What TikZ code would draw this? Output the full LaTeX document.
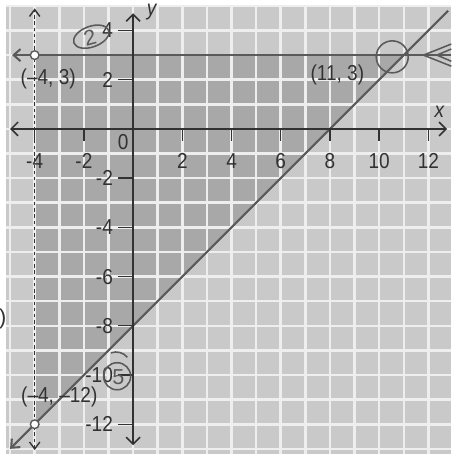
\documentclass[tikz,border=0pt]{standalone}
\usepackage{fontspec}
\setmainfont{Liberation Sans}
\usetikzlibrary{arrows.meta}
\definecolor{bglight}{RGB}{201,201,201}
\definecolor{shadec}{RGB}{168,168,168}
\definecolor{gridw}{RGB}{238,238,238}
\definecolor{ink}{RGB}{50,50,50}
\definecolor{pen}{RGB}{90,90,90}
\begin{document}
\begin{tikzpicture}[x=0.5cm,y=0.5cm,
  font=\fontsize{12.5}{14}\selectfont,
  axisline/.style={draw=ink, line width=0.9pt},
  bound/.style={draw=pen, line width=1.2pt},
  tick/.style={draw=ink, line width=0.8pt},
  lab/.style={text=ink, inner sep=1pt, xscale=0.88},
  dot/.style={circle, draw=pen, line width=0.8pt, fill=white, inner sep=0pt, minimum size=5pt},
  hand/.style={draw=pen, line width=0.9pt}
]
\useasboundingbox (-5.41,-13.21) rectangle (12.93,5.24);
\fill[white] (-5.41,-13.21) rectangle (12.93,5.24);
\fill[bglight] (-5.15,-13.21) rectangle (12.93,5.05);
\fill[shadec] (-4,3) -- (11,3) -- (-4,-12) -- cycle;
\draw[gridw, line width=1.5pt, step=0.5cm] (-5.15,-13.21) grid (12.93,5.05);

% graph lines
\coordinate (hl) at (-4.92,3);
\coordinate (hr) at (12.93,3);
\coordinate (dl) at (-5,-13);
\coordinate (dr) at (12.8,4.8);
\coordinate (vb) at (-4,-13.05);
\coordinate (vt) at (-4,4.9);
\draw[bound, {Straight Barb[length=4pt,width=7pt]}-] (hl) -- (hr);
\draw[bound, {Straight Barb[length=4pt,width=7pt]}-] (dl) -- (dr);
\draw[draw=ink, line width=0.8pt, dash pattern=on 2pt off 1.6pt,
  {Straight Barb[length=4pt,width=6pt]}-{Straight Barb[length=4pt,width=6pt]}] (vb) -- (vt);

% axes
\coordinate (xl) at (-5,0);
\coordinate (xr) at (12.76,0);
\coordinate (yb) at (0,-12.85);
\coordinate (yt) at (0,4.7);
\draw[axisline, {Straight Barb[length=4pt,width=8pt]}-{Straight Barb[length=4pt,width=8pt]}] (xl) -- (xr);
\draw[axisline, {Straight Barb[length=4pt,width=8pt]}-{Straight Barb[length=4pt,width=8pt]}] (yb) -- (yt);
\node[lab] (xlab) at (12.45,0.7) {\itshape x};
\node[lab] (ylab) at (0.75,4.75) {\itshape y};

% x ticks
\foreach \t in {-4,-2,2,4,6,8,10,12}{
  \draw[tick] (\t,0) -- (\t,-0.5);
  \node[lab] (xt\t) at (\t,-1.3) {\t};
}
\node[lab] (orig) at (-0.4,-0.55) {0};
% y ticks
\foreach \t in {4,2,-2,-4,-6,-8,-10,-12}{
  \draw[tick] (-0.6,\t) -- (0,\t);
  \node[lab, anchor=east] (yt\t) at (-0.75,\t) {\t};
}

% points
\node[dot] (p1) at (-4,3) {};
\node[dot] (p2) at (-4,-12) {};
\node[lab] (l1) at (-3.45,2.05) {(--4, 3)};
\node[lab] (l2) at (8.3,2.2) {(11, 3)};
\node[lab] (l3) at (-3.0,-10.9) {(--4, --12)};

% handwritten marks
\draw[hand] (10.53,2.93) circle (0.65);
\draw[hand] (11.8,3) -- (12.93,3.45);
\draw[hand] (11.8,3) -- (12.93,2.55);
\draw[hand] (12.35,3) -- (12.93,3.25);
\draw[hand] (12.35,3) -- (12.93,2.75);
\draw[hand, rotate around={20:(-1.7,3.75)}] (-1.7,3.75) ellipse (0.75 and 0.42);
\node[text=pen, inner sep=0pt, rotate=15] (h2) at (-1.75,3.7) {2};
\draw[hand] (-0.65,-10.05) circle (0.55);
\node[text=pen, inner sep=0pt] (h5) at (-0.6,-10.1) {5};
\draw[hand] (-0.9,-9.1) arc (110:40:0.6);
\node[text=ink, inner sep=0pt] (paren) at (-5.3,-7.7) {)};
\end{tikzpicture}
\end{document}
